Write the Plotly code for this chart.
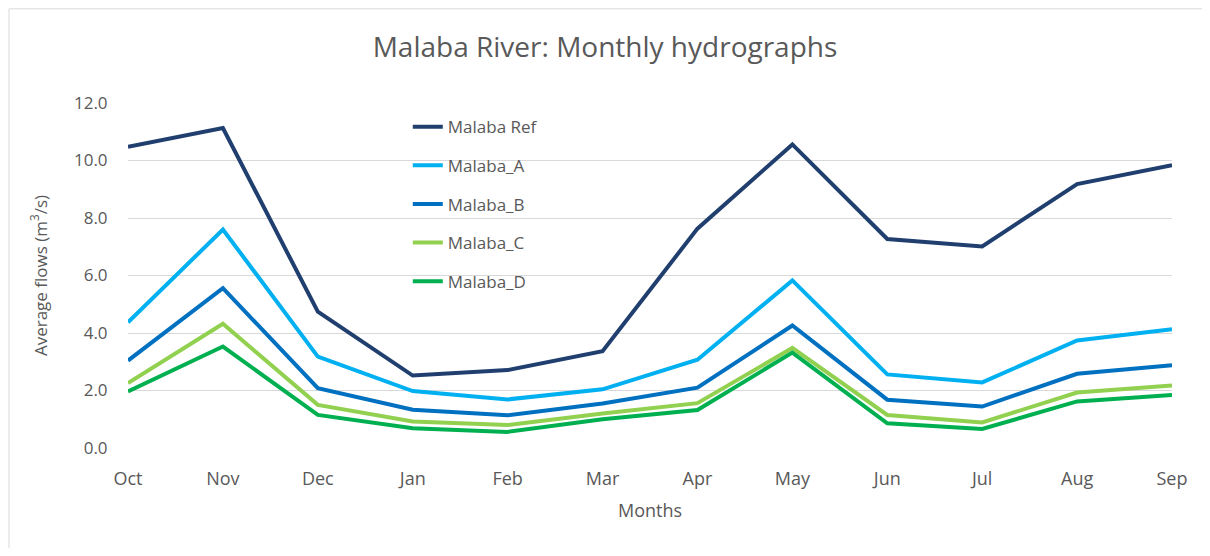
import plotly.graph_objects as go

months = ["Oct", "Nov", "Dec", "Jan", "Feb", "Mar", "Apr", "May", "Jun", "Jul", "Aug", "Sep"]
malaba_ref = [10.48, 11.13, 4.74, 2.52, 2.71, 3.37, 7.63, 10.56, 7.27, 7.01, 9.18, 9.84]
malaba_a = [4.37, 7.60, 3.18, 1.98, 1.69, 2.04, 3.07, 5.83, 2.56, 2.28, 3.74, 4.13]
malaba_b = [3.04, 5.56, 2.08, 1.33, 1.14, 1.55, 2.10, 4.26, 1.68, 1.44, 2.58, 2.88]
malaba_c = [2.26, 4.32, 1.50, 0.92, 0.80, 1.20, 1.56, 3.48, 1.15, 0.89, 1.93, 2.17]
malaba_d = [1.97, 3.53, 1.15, 0.69, 0.56, 1.00, 1.32, 3.32, 0.86, 0.66, 1.62, 1.84]

series = [
    ("Malaba Ref", malaba_ref, "#203F6E"),
    ("Malaba_A", malaba_a, "#00B0F0"),
    ("Malaba_B", malaba_b, "#0070C0"),
    ("Malaba_C", malaba_c, "#92D050"),
    ("Malaba_D", malaba_d, "#00B050"),
]

font_family = "Open Sans, Noto Sans, sans-serif"
grey = "#595959"

fig = go.Figure()
for i, (name, vals, col) in enumerate(series):
    fig.add_trace(go.Scatter(
        x=months, y=vals, name=name, mode="lines",
        line=dict(color=col, width=4),
        legendgroup=f"g{i}",
    ))

fig.update_layout(
    width=1194, height=540,
    margin=dict(l=120, r=30, t=95, b=100),
    paper_bgcolor="white", plot_bgcolor="white",
    font=dict(family=font_family, color=grey, size=17),
    title=dict(text="Malaba River: Monthly hydrographs", x=0.5, xanchor="center",
               y=0.928, yanchor="middle",
               font=dict(size=28, color=grey, family=font_family)),
    legend=dict(x=0.268, y=0.982, xanchor="left", yanchor="top",
                bgcolor="rgba(0,0,0,0)", tracegroupgap=13.5,
                font=dict(size=17, color=grey), itemwidth=30),
    showlegend=True,
    shapes=[
        dict(type="line", xref="paper", yref="paper", x0=-0.114, x1=1.1, y0=1.273, y1=1.273,
             line=dict(color="#D9D9D9", width=1)),
        dict(type="line", xref="paper", yref="paper", x0=-0.114, x1=-0.114, y0=-0.4, y1=1.273,
             line=dict(color="#D9D9D9", width=1)),
    ],
)
fig.update_xaxes(
    range=[0, 11], showgrid=False, showline=False,
    ticks="outside", ticklen=14, tickcolor="rgba(0,0,0,0)",
    tickfont=dict(size=18, color=grey),
    title=dict(text="Months", font=dict(size=18, color=grey), standoff=15),
)
fig.update_yaxes(
    range=[0, 12], dtick=2, tickformat=".1f", showgrid=True, gridcolor="#D9D9D9",
    gridwidth=1, zeroline=False, showline=False, ticks="outside", ticklen=16,
    tickcolor="rgba(0,0,0,0)",
    tickfont=dict(size=17, color=grey),
    title=dict(text="Average flows (m<sup>3</sup>/s)", font=dict(size=17, color=grey), standoff=22),
)

fig.write_html("out.html")
